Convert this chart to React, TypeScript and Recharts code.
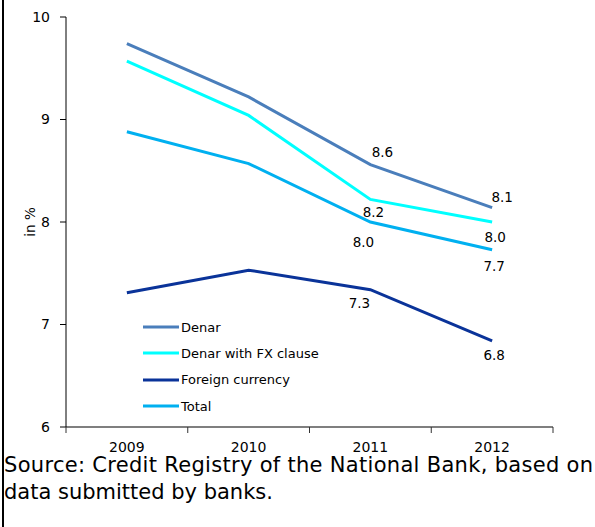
import React from 'react';
import { LineChart, Line, XAxis, YAxis, Legend, LabelList } from 'recharts';

const years = ['2009', '2010', '2011', '2012'];
const denar = [9.74, 9.22, 8.56, 8.14];
const denarFx = [9.57, 9.04, 8.22, 8.0];
const foreign = [7.31, 7.53, 7.34, 6.84];
const total = [8.88, 8.57, 8.0, 7.73];
const yTicks = [6, 7, 8, 9, 10];

const data = years.map((y, i) => ({
  year: y,
  denar: denar[i],
  denarFx: denarFx[i],
  foreign: foreign[i],
  total: total[i],
}));

const FONT = '"DejaVu Sans", Verdana, sans-serif';
const X_TICK_MARGIN = 15;

const series = [
  { key: 'denar', name: 'Denar', color: '#4a7ebb', offs: { 2: [12, -13], 3: [10, -11] } },
  { key: 'denarFx', name: 'Denar with FX clause', color: '#00ffff', offs: { 2: [3, 13], 3: [3, 15] } },
  { key: 'foreign', name: 'Foreign currency', color: '#0a3399', offs: { 2: [-11, 13], 3: [2, 14] } },
  { key: 'total', name: 'Total', color: '#00b0f0', offs: { 2: [-7, 20], 3: [2, 16] } },
];

const makeLabel = (offs: any) => (props: any) => {
  const { x, y, value, index } = props;
  const o = offs[index];
  if (!o) return null;
  return (
    <text
      x={x + o[0]}
      y={y + o[1]}
      textAnchor="middle"
      dominantBaseline="central"
      fontSize={13.5}
      fontFamily={FONT}
      fill="#000"
    >
      {Number(value).toFixed(1)}
    </text>
  );
};

const XTick = (props: any) => {
  const { x, y, payload, index, width, visibleTicksCount } = props;
  const n = visibleTicksCount || years.length;
  const bw = width / n;
  const axisY = y - X_TICK_MARGIN;
  return (
    <g>
      <line x1={x - bw / 2} x2={x - bw / 2} y1={axisY} y2={axisY + 6} stroke="#333" strokeWidth={1} />
      {index === n - 1 && (
        <line x1={x + bw / 2} x2={x + bw / 2} y1={axisY} y2={axisY + 6} stroke="#333" strokeWidth={1} />
      )}
      <text x={x} y={y} dy="0.71em" textAnchor="middle" fontSize={14} fontFamily={FONT} fill="#000">
        {payload.value}
      </text>
    </g>
  );
};

const LegendContent = () => (
  <div style={{ fontFamily: FONT, fontSize: 13, color: '#000' }}>
    {series.map((s) => (
      <div key={s.key} style={{ height: 26.3, display: 'flex', alignItems: 'center' }}>
        <svg width={38} height={4} style={{ display: 'block' }}>
          <line x1={0} y1={2} x2={36} y2={2} stroke={s.color} strokeWidth={3} />
        </svg>
        <span style={{ whiteSpace: 'nowrap' }}>{s.name}</span>
      </div>
    ))}
  </div>
);

const YLabel = (props: any) => {
  const vb = props.viewBox || {};
  const cx = vb.x + 30;
  const cy = vb.y + vb.height / 2;
  return (
    <text
      x={cx}
      y={cy}
      transform={`rotate(-90, ${cx}, ${cy})`}
      textAnchor="middle"
      dominantBaseline="central"
      fontSize={13.5}
      fontFamily={FONT}
      fill="#000"
    >
      in %
    </text>
  );
};

export default function App() {
  return (
    <div style={{ position: 'absolute', left: 0, top: 0, width: 595, height: 527, background: '#fff' }}>
      <div style={{ position: 'absolute', left: 2, top: 0, width: 2, height: 527, background: '#000' }} />
      <LineChart
        width={595}
        height={527}
        data={data}
        margin={{ top: 17, right: 42, left: 0, bottom: 70 }}
        style={{ fontFamily: FONT }}
      >
        <XAxis
          dataKey="year"
          type="category"
          scale="band"
          tick={<XTick />}
          tickLine={false}
          tickSize={0}
          tickMargin={X_TICK_MARGIN}
          height={30}
          interval={0}
          stroke="#555"
          axisLine={{ stroke: '#555', strokeWidth: 1.5 }}
        />
        <YAxis
          domain={[6, 10]}
          ticks={yTicks}
          width={66}
          tickSize={6}
          tickMargin={10}
          stroke="#000"
          tick={{ fill: '#000', fontSize: 14, fontFamily: FONT }}
          label={<YLabel />}
        />
        <Legend
          layout="vertical"
          verticalAlign="middle"
          align="center"
          content={<LegendContent />}
          wrapperStyle={{ position: 'absolute', left: 143, top: 314, width: 220 }}
        />
        {series.map((s) => (
          <Line
            key={s.key}
            type="linear"
            dataKey={s.key}
            name={s.name}
            stroke={s.color}
            strokeWidth={3}
            dot={false}
            activeDot={false}
            isAnimationActive={false}
          >
            <LabelList dataKey={s.key} content={makeLabel(s.offs)} />
          </Line>
        ))}
      </LineChart>
      <svg
        width={595}
        height={527}
        style={{ position: 'absolute', left: 0, top: 0, pointerEvents: 'none' }}
      >
        <text x={4} y={472} fontSize={21} fontFamily={FONT} fill="#000" textLength={589} lengthAdjust="spacing">
          Source: Credit Registry of the National Bank, based on
        </text>
        <text x={4} y={499} fontSize={21} fontFamily={FONT} fill="#000">
          data submitted by banks.
        </text>
      </svg>
    </div>
  );
}
